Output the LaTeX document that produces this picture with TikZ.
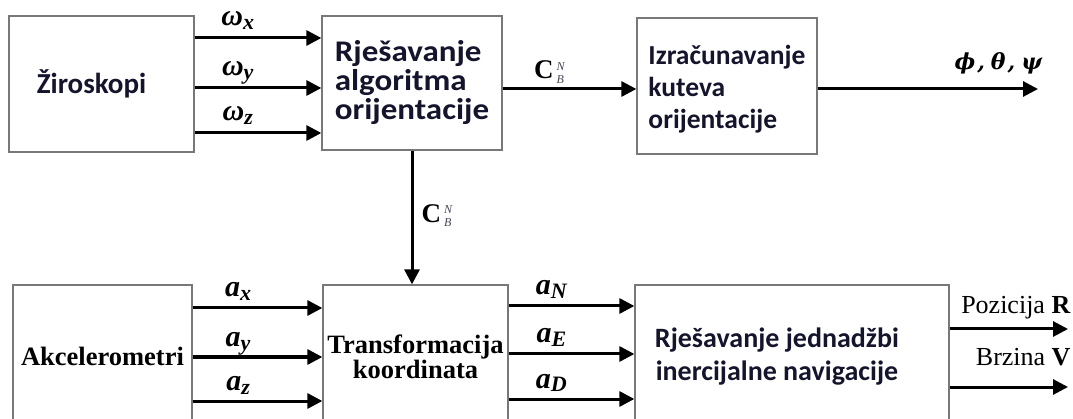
\documentclass[tikz,border=0pt]{standalone}
\usepackage{fontspec}
\usepackage{graphicx}
\setmainfont{Liberation Serif}
\newfontfamily\boxsans{Carlito}
\newfontfamily\grkfont{DejaVu Serif}
\usetikzlibrary{arrows.meta}
\definecolor{boxgray}{RGB}{120,120,120}
\definecolor{navyink}{RGB}{20,20,45}
\definecolor{subgray}{RGB}{70,70,90}
\newcommand\hsc[2]{\scalebox{#1}[1]{#2}}
\newcommand\subs[1]{\raisebox{-4pt}{\fontsize{22}{22}\selectfont #1}}
\newcommand\CBN{\textbf{C}\hspace{3pt}\raisebox{2pt}{\fontsize{12}{13}\selectfont\itshape\color{subgray}\begin{tabular}{@{}l@{}}N\\B\end{tabular}}}
\begin{document}
\begin{tikzpicture}[x=1pt,y=-1pt,
  box/.style={draw=boxgray, line width=1.3pt, inner sep=0pt},
  sansbox/.style={box, text=navyink, font=\boxsans\bfseries\fontsize{29}{30}\selectfont},
  serifbox/.style={box, font=\bfseries\fontsize{26.5}{25}\selectfont},
  arr/.style={line width=3pt, -{Triangle[length=15pt,width=15pt]}},
  lbl/.style={font=\bfseries\itshape\fontsize{30}{30}\selectfont, inner sep=0pt, anchor=base},
  clbl/.style={inner sep=0pt, anchor=base, font=\fontsize{27}{27}\selectfont},
  outlbl/.style={font=\fontsize{26}{26}\selectfont, inner sep=0pt, anchor=base east}]
\useasboundingbox (0,0) rectangle (1073,419);
\clip (0,0) rectangle (1073,419);
% boxes
\node[sansbox, minimum width=185pt, minimum height=136pt] (zir) at (101.5,84) {Žiroskopi\rule{20pt}{0pt}};
\node[sansbox, font=\boxsans\bfseries\fontsize{30}{29}\selectfont, minimum width=180pt, minimum height=134pt, align=left] (alg) at (412,83)
  {\hsc{1.1}{Rješavanje}\\\hsc{1.1}{algoritma}\\\hsc{1.1}{orijentacije}};
\node[sansbox, font=\boxsans\bfseries\fontsize{27.5}{32}\selectfont, minimum width=180pt, minimum height=136pt, align=left] (izr) at (727,86)
  {\rule{0pt}{25pt}Izračunavanje\\kuteva\\orijentacije};
\node[serifbox, minimum width=179pt, minimum height=142pt] (akc) at (102.5,356) {Akcelerometri};
\node[serifbox, minimum width=185pt, minimum height=143pt, align=center] (trans) at (415.5,356.5)
  {Transformacija\\koordinata};
\node[sansbox, font=\boxsans\bfseries\fontsize{28}{33}\selectfont, minimum width=314pt, minimum height=143pt, align=center] (nav) at (792,356.5)
  {Rješavanje jednadžbi\rule{30pt}{0pt}\\inercijalne navigacije\rule{30pt}{0pt}};
% free ends
\coordinate (angout) at (1038,89);
\coordinate (outR) at (1068,329);
\coordinate (outV) at (1068,387);
% gyro arrows
\draw[arr] (zir.east |- 0,38) -- node[lbl, pos=0.34, yshift=12pt]{ω\subs{x}} (alg.west |- 0,38);
\draw[arr] (zir.east |- 0,88) -- node[lbl, pos=0.34, yshift=12pt]{ω\subs{y}} (alg.west |- 0,88);
\draw[arr] (zir.east |- 0,133) -- node[lbl, pos=0.34, yshift=12pt]{ω\subs{z}} (alg.west |- 0,133);
% C_B^N
\draw[arr] (alg.east |- 0,89) -- node[clbl, pos=0.35, yshift=10pt]{\CBN} (izr.west |- 0,89);
\draw[arr] (alg.south) -- node[clbl, anchor=west, xshift=8pt]{\CBN} (alg.south |- trans.north);
% angle output
\draw[arr] (izr.east |- angout) -- node[pos=0.82, anchor=base, yshift=19pt, inner sep=0pt, font=\grkfont\bfseries\itshape\fontsize{22}{22}\selectfont]{ϕ\hspace{2pt},\hspace{6pt}θ\hspace{2pt},\hspace{6pt}ψ} (angout);
% accelerometer arrows
\draw[arr] (akc.east |- 0,308) -- node[lbl, pos=0.35, yshift=11pt]{a\subs{x}} (trans.west |- 0,308);
\draw[arr] (akc.east |- 0,357) -- node[lbl, pos=0.35, yshift=11pt]{a\subs{y}} (trans.west |- 0,357);
\draw[arr] (akc.east |- 0,401) -- node[lbl, pos=0.35, yshift=11pt]{a\subs{z}} (trans.west |- 0,401);
% transformed arrows
\draw[arr] (trans.east |- 0,306) -- node[lbl, pos=0.34, yshift=11pt]{a\subs{N}} (nav.west |- 0,306);
\draw[arr] (trans.east |- 0,354) -- node[lbl, pos=0.34, yshift=11pt]{a\subs{E}} (nav.west |- 0,354);
\draw[arr] (trans.east |- 0,399) -- node[lbl, pos=0.34, yshift=11pt]{a\subs{D}} (nav.west |- 0,399);
% outputs
\draw[arr] (nav.east |- outR) -- (outR) node[outlbl, xshift=4pt, yshift=15pt]{Pozicija \textbf{R}};
\draw[arr] (nav.east |- outV) -- (outV) node[outlbl, xshift=4pt, yshift=21pt]{Brzina \textbf{V}};
\end{tikzpicture}
\end{document}
